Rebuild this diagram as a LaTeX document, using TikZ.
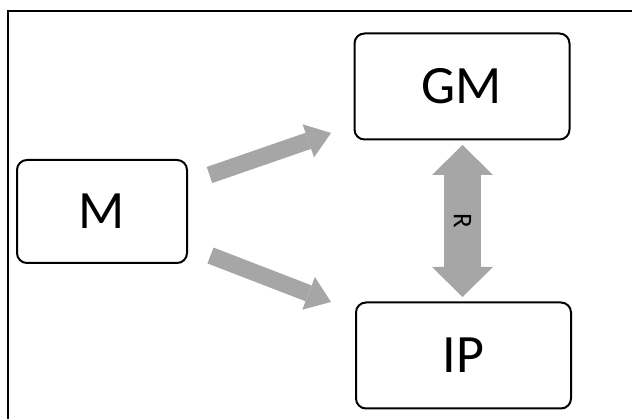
\documentclass[tikz,border=0pt]{standalone}
\usepackage{fontspec}
\setmainfont{Carlito}
\usetikzlibrary{arrows.meta}
\definecolor{arrowgray}{HTML}{A6A6A6}
\tikzset{
  box/.style={draw=black, line width=2pt, rounded corners=10pt, minimum width=#1, minimum height=106pt, inner sep=0pt, font=\fontsize{54}{60}\selectfont},
  box/.default=215pt,
  fatarrow/.style={draw=arrowgray, line width=17pt, -{Triangle[width=35pt,length=24pt,line width=0pt]}},
  fatdouble/.style={draw=arrowgray, line width=37pt, {Triangle[width=61pt,length=30pt,line width=0pt]}-{Triangle[width=61pt,length=30pt,line width=0pt]}},
}
\begin{document}
\begin{tikzpicture}[x=1pt,y=-1pt]
\useasboundingbox (0,0) rectangle (632,419);
\draw[line width=1.5pt] (632,11) -- (8,11) -- (8,419);
\node[box=170pt, minimum height=103pt] (M) at (102,211.5) {M};
\node[box] (GM) at (462,86.5) {GM};
\node[box] (IP) at (463.5,355.5) {IP};
\coordinate (t1) at (209.5,175);
\coordinate (h1) at (331,133);
\coordinate (t2) at (210.5,255.5);
\coordinate (h2) at (331,302);
\coordinate (d1) at (462.5,145);
\coordinate (d2) at (462.5,297);
\draw[fatarrow] (t1) -- (h1);
\draw[fatarrow] (t2) -- (h2);
\draw[fatdouble] (d1) -- node[rotate=-90, inner sep=0pt, font=\fontsize{27}{30}\selectfont] (R) {R} (d2);
\end{tikzpicture}
\end{document}
